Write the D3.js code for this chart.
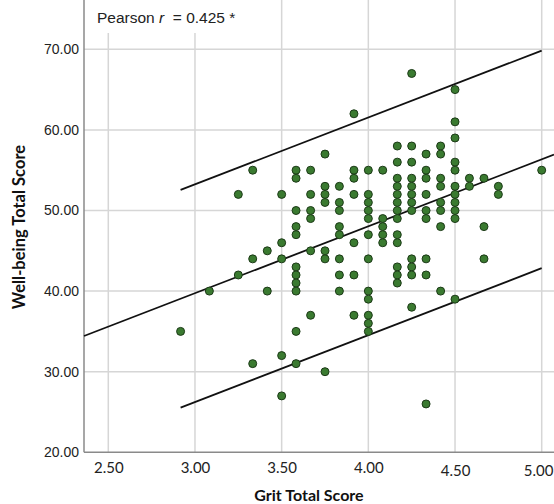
<!DOCTYPE html>
<html>
<head>
<meta charset="utf-8">
<script src="https://cdn.jsdelivr.net/npm/d3@7"></script>
<style>
  body { margin: 0; background: #fff; }
  svg { display: block; }
</style>
</head>
<body>
<svg width="554" height="504"></svg>
<script>
// grit score columns (twelfths) and the well-being scores found in each column
var gritLevels = [2.917, 3.083, 3.25, 3.333, 3.417, 3.5, 3.583, 3.667, 3.75, 3.833, 3.917,
                  4.0, 4.083, 4.167, 4.25, 4.333, 4.417, 4.5, 4.583, 4.667, 4.75, 5.0];
var wellbeingByGrit = [
    [35],
    [40],
    [52, 42],
    [55, 44, 31],
    [45, 40],
    [52, 46, 44, 32, 27],
    [55, 54, 50, 48, 47, 43, 42, 41, 40, 35, 31],
    [55, 52, 50, 49, 45, 37],
    [57, 53, 52, 51, 45, 44, 30],
    [53, 51, 50, 48, 47, 44, 42, 40],
    [62, 55, 54, 52, 46, 42, 37],
    [55, 52, 51, 50, 49, 47, 44, 40, 39, 37, 36, 35],
    [55, 49, 48, 47, 46],
    [58, 56, 54, 53, 52, 51, 50, 49, 47, 46, 43, 42, 41],
    [67, 58, 56, 54, 53, 52, 51, 50, 44, 43, 42, 38],
    [57, 55, 54, 52, 50, 49, 44, 42, 26],
    [58, 57, 54, 53, 51, 50, 48, 40],
    [65, 61, 59, 56, 55, 53, 52, 51, 50, 49, 39],
    [54, 53],
    [54, 48, 44],
    [53, 52],
    [55]
];

var xTicks = [2.5, 3.0, 3.5, 4.0, 4.5, 5.0];
var yTicks = [20, 30, 40, 50, 60, 70];

// fitted line and prediction interval
var fitIntercept = 14.84;
var fitSlope = 8.3;
var predHalfWidth = 13.5;
var pearsonR = "0.425";

var points = [];
gritLevels.forEach(function(g, i) {
    wellbeingByGrit[i].forEach(function(w) {
        points.push({grit: g, wellbeing: w});
    });
});

var svg = d3.select("svg"),
    left = 84, bottom = 452.3, right = 554;

var x = d3.scaleLinear()
    .domain([2.5, 5.0])
    .range([108.3, 541.7]);

var y = d3.scaleLinear()
    .domain([20, 70])
    .range([452.3, 49.3]);

// grid
svg.append("g")
    .selectAll("line.vgrid")
    .data(xTicks)
    .enter().append("line")
    .attr("x1", function(d) { return x(d); })
    .attr("x2", function(d) { return x(d); })
    .attr("y1", 0)
    .attr("y2", bottom)
    .attr("stroke", "#d6d6d6")
    .attr("stroke-width", 1.5);

svg.append("g")
    .selectAll("line.hgrid")
    .data(yTicks.slice(1))
    .enter().append("line")
    .attr("x1", left)
    .attr("x2", right)
    .attr("y1", function(d) { return y(d); })
    .attr("y2", function(d) { return y(d); })
    .attr("stroke", "#d6d6d6")
    .attr("stroke-width", 1.5);

// axis lines
svg.append("line")
    .attr("x1", left).attr("x2", left)
    .attr("y1", 0).attr("y2", bottom)
    .attr("stroke", "#8a8a8a").attr("stroke-width", 1.5);
svg.append("line")
    .attr("x1", left).attr("x2", right)
    .attr("y1", bottom).attr("y2", bottom)
    .attr("stroke", "#8a8a8a").attr("stroke-width", 1.5);

// tick labels
var yAxis = svg.append("g")
    .attr("transform", "translate(" + (left - 5) + ",0)")
    .call(d3.axisLeft(y).tickValues(yTicks).tickSize(0).tickPadding(0).tickFormat(d3.format(".2f")));
yAxis.select(".domain").remove();
yAxis.selectAll("text")
    .attr("font-family", "'Liberation Sans', Arial, sans-serif")
    .attr("font-size", 14)
    .attr("fill", "#222");

var xAxis = svg.append("g")
    .attr("transform", "translate(0," + bottom + ")")
    .call(d3.axisBottom(x).tickValues(xTicks).tickSize(0).tickPadding(9).tickFormat(d3.format(".2f")));
xAxis.select(".domain").remove();
xAxis.selectAll("text")
    .attr("font-family", "Lato, 'Open Sans', sans-serif")
    .attr("font-size", 15)
    .attr("fill", "#222")
    .attr("dy", function(d) { return d >= 4.5 ? "1.0em" : "0.75em"; });
// last label sits against the right edge
xAxis.selectAll("text")
    .filter(function(d) { return d === 5.0; })
    .attr("text-anchor", "end")
    .attr("x", right - x(5.0) - 1);

// fit line across the axis and the prediction band over the data range
var line = d3.line()
    .x(function(d) { return x(d[0]); })
    .y(function(d) { return y(d[1]); });

var xMin = x.invert(left), xMax = x.invert(right);
var gMin = d3.min(gritLevels), gMax = d3.max(gritLevels);

svg.append("path")
    .datum([[xMin, fitIntercept + fitSlope * xMin], [xMax, fitIntercept + fitSlope * xMax]])
    .attr("d", line)
    .attr("fill", "none").attr("stroke", "#111").attr("stroke-width", 1.8);

[predHalfWidth, -predHalfWidth].forEach(function(off) {
    svg.append("path")
        .datum([[gMin, fitIntercept + fitSlope * gMin + off], [gMax, fitIntercept + fitSlope * gMax + off]])
        .attr("d", line)
        .attr("fill", "none").attr("stroke", "#111").attr("stroke-width", 1.8);
});

// points
svg.append("g")
    .selectAll("circle")
    .data(points)
    .enter().append("circle")
    .attr("cx", function(d) { return x(d.grit); })
    .attr("cy", function(d) { return y(d.wellbeing); })
    .attr("r", 4)
    .attr("fill", "#3a7a30")
    .attr("stroke", "#1c3a17")
    .attr("stroke-width", 1);

// pearson box
svg.append("rect")
    .attr("x", 86).attr("y", 0)
    .attr("width", 162).attr("height", 33)
    .attr("fill", "#fff");

var pt = svg.append("text")
    .attr("x", 97).attr("y", 23)
    .attr("font-family", "'Liberation Sans', Arial, sans-serif")
    .attr("font-size", 15.5)
    .attr("fill", "#222");
pt.append("tspan").text("Pearson ");
pt.append("tspan").attr("font-style", "italic").text("r");
pt.append("tspan").attr("xml:space", "preserve").text("  = " + pearsonR + " *");

// axis titles
svg.append("text")
    .attr("x", 309).attr("y", 501)
    .attr("text-anchor", "middle")
    .attr("font-family", "Lato, 'Open Sans', sans-serif")
    .attr("font-weight", "bold")
    .attr("font-size", 16)
    .attr("fill", "#111")
    .text("Grit Total Score");

svg.append("text")
    .attr("transform", "translate(25,227) rotate(-90)")
    .attr("text-anchor", "middle")
    .attr("font-family", "Lato, 'Open Sans', sans-serif")
    .attr("font-weight", "bold")
    .attr("font-size", 16.5)
    .attr("fill", "#111")
    .text("Well-being Total Score");
</script>
</body>
</html>
